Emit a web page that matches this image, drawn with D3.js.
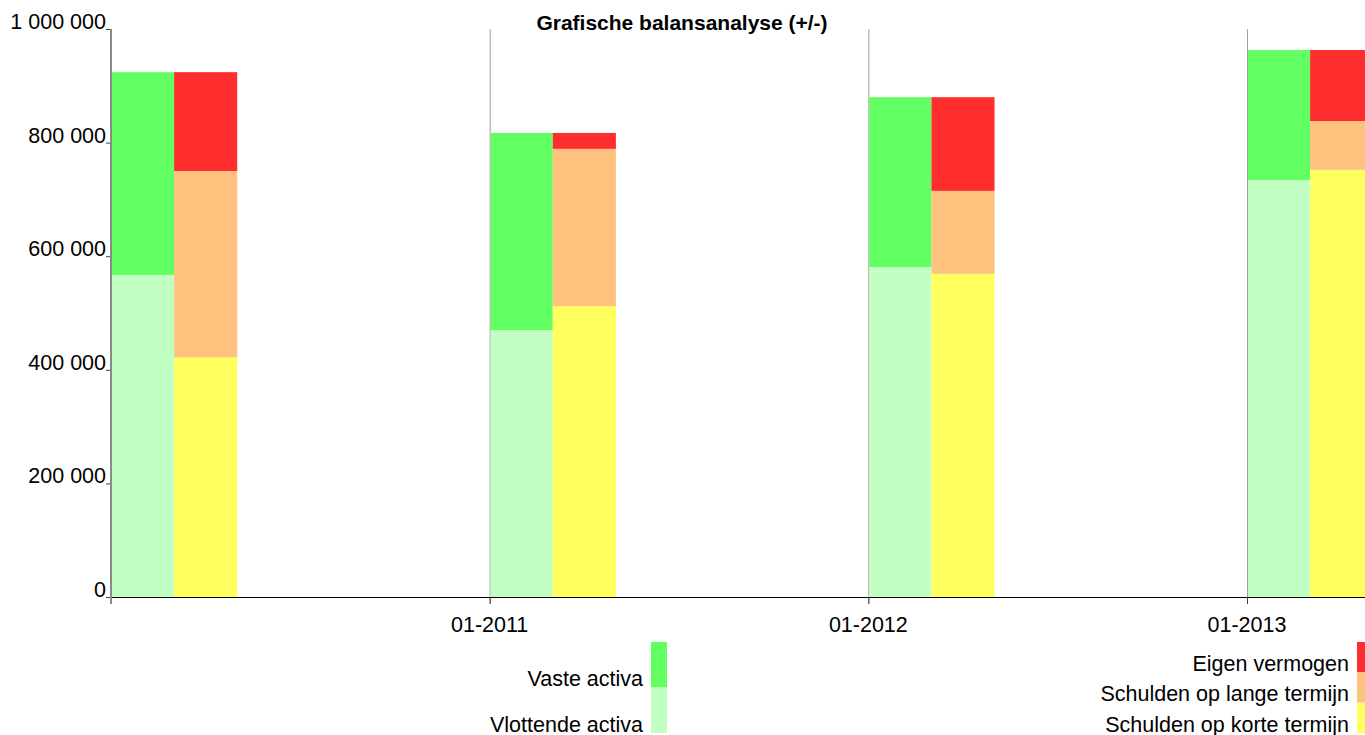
<!DOCTYPE html>
<html>
<head>
<meta charset="utf-8">
<script src="https://cdn.jsdelivr.net/npm/d3@7"></script>
<style>
  html, body { margin: 0; padding: 0; background: #fff; overflow: hidden; }
  svg { display: block; }
  text { font-family: "Liberation Sans", Arial, sans-serif; fill: #000; }
</style>
</head>
<body>
<svg id="chart" width="1365" height="735"></svg>
<script>
// ---- data ----
const periods = ["01-2010", "01-2011", "01-2012", "01-2013"];
const periodLabels = ["", "01-2011", "01-2012", "01-2013"];
// Activa (left bar)
const vlottendeActiva = [567000, 470000, 581000, 734000];
const vasteActiva     = [357000, 347000, 299000, 229000];
// Passiva (right bar)
const schuldenKorte   = [422000, 512000, 569000, 752000];
const schuldenLange   = [328000, 277000, 146000,  86000];
const eigenVermogen   = [174000,  28000, 165000, 125000];
const yTicks = [0, 200000, 400000, 600000, 800000, 1000000];
const title = "Grafische balansanalyse (+/-)";

const colors = {
  vaste: "#62ff62", vlottende: "#c2ffc2",
  eigen: "#ff2e2e", lange: "#ffc27e", korte: "#ffff5e"
};
const fs = 21.5;

const svg = d3.select("#chart");
const x = d3.scalePoint().domain(periods).range([111, 1247]);
const step = x.step();
const bw = step / 6;
const y = d3.scaleLinear().domain([0, 1000000]).range([597, 29]);

// stacks
const rows = periods.map((p, i) => ({
  p,
  vlottende: vlottendeActiva[i], vaste: vasteActiva[i],
  korte: schuldenKorte[i], lange: schuldenLange[i], eigen: eigenVermogen[i]
}));
const leftStack = d3.stack().keys(["vlottende", "vaste"])(rows);
const rightStack = d3.stack().keys(["korte", "lange", "eigen"])(rows);

// gridlines (vertical, at period positions)
svg.append("g").selectAll("line").data(periods.slice(1)).join("line")
  .attr("x1", d => x(d) + 0.5).attr("x2", d => x(d) + 0.5)
  .attr("y1", y(1000000)).attr("y2", y(0) + 7)
  .attr("stroke", "#a0a0a0").attr("stroke-width", 1);

// bars
const gBars = svg.append("g");
leftStack.forEach(s => {
  gBars.append("g").selectAll("rect").data(s).join("rect")
    .attr("x", d => x(d.data.p) + 1)
    .attr("width", bw - 1)
    .attr("y", d => y(d[1]))
    .attr("height", d => y(d[0]) - y(d[1]))
    .attr("fill", colors[s.key]);
});
rightStack.forEach(s => {
  gBars.append("g").selectAll("rect").data(s).join("rect")
    .attr("x", d => x(d.data.p) + bw)
    .attr("width", bw)
    .attr("y", d => y(d[1]))
    .attr("height", d => y(d[0]) - y(d[1]))
    .attr("fill", colors[s.key]);
});

// x axis baseline
svg.append("line")
  .attr("x1", 111).attr("x2", 1365)
  .attr("y1", y(0) + 0.5).attr("y2", y(0) + 0.5)
  .attr("stroke", "#000").attr("stroke-width", 1);

// x ticks and labels
const gx = svg.append("g");
gx.selectAll("line").data(periods.slice(1)).join("line")
  .attr("x1", d => x(d) + 0.5).attr("x2", d => x(d) + 0.5)
  .attr("y1", y(0)).attr("y2", y(0) + 7)
  .attr("stroke", "#404040");
gx.selectAll("text").data(periods).join("text")
  .attr("x", d => x(d)).attr("y", 632)
  .attr("text-anchor", "middle").attr("font-size", fs)
  .text((d, i) => periodLabels[i]);

// y axis
svg.append("line")
  .attr("x1", 111).attr("x2", 111)
  .attr("y1", y(1000000)).attr("y2", y(0) + 7)
  .attr("stroke", "#8a8a8a").attr("stroke-width", 2);
const fmt = v => d3.format(",")(v).replace(/,/g, " ");
const gy = svg.append("g");
gy.selectAll("line").data(yTicks).join("line")
  .attr("x1", 106).attr("x2", 110)
  .attr("y1", d => y(d) + 0.5).attr("y2", d => y(d) + 0.5)
  .attr("stroke", "#404040");
gy.selectAll("text").data(yTicks).join("text")
  .attr("x", 106).attr("y", d => y(d))
  .attr("text-anchor", "end").attr("font-size", fs)
  .text(d => fmt(d));

// title
svg.append("text")
  .attr("x", 682).attr("y", 30)
  .attr("text-anchor", "middle").attr("font-size", 21).attr("font-weight", "bold")
  .text(title);

// legends
function legend(items, sx, textX, top, bottom) {
  const h = (bottom - top) / items.length;
  const g = svg.append("g");
  g.selectAll("rect").data(items).join("rect")
    .attr("x", sx).attr("width", 16)
    .attr("y", (d, i) => top + i * h).attr("height", h)
    .attr("fill", d => d.color);
  g.selectAll("text").data(items).join("text")
    .attr("x", textX).attr("y", (d, i) => top + (i + 1) * h - 1.5)
    .attr("text-anchor", "end").attr("font-size", fs)
    .text(d => d.label);
}
legend([
  { label: "Vaste activa", color: colors.vaste },
  { label: "Vlottende activa", color: colors.vlottende }
], 651, 643, 642, 733);
legend([
  { label: "Eigen vermogen", color: colors.eigen },
  { label: "Schulden op lange termijn", color: colors.lange },
  { label: "Schulden op korte termijn", color: colors.korte }
], 1357, 1349, 642, 733);
</script>
</body>
</html>
